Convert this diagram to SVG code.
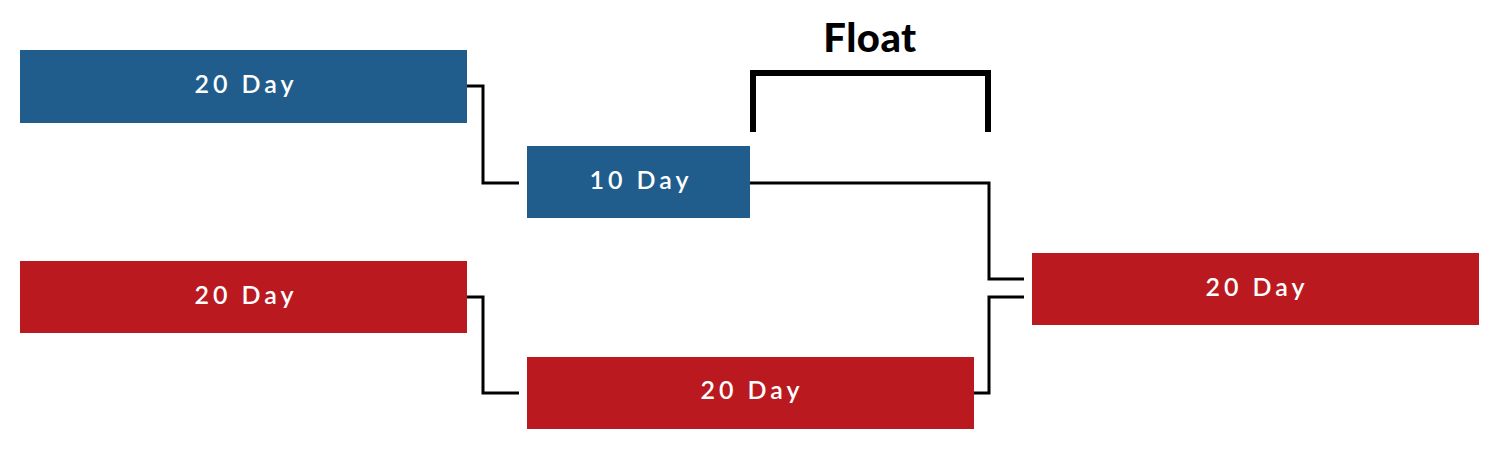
<svg xmlns="http://www.w3.org/2000/svg" width="1500" height="458" viewBox="0 0 1500 458">
<style>
.blue{fill:#205D8C}
.red{fill:#BA1920}
.lbl{font-family:Lato,"Noto Sans",sans-serif;font-size:25px;font-weight:600;fill:#fff;letter-spacing:4px;text-anchor:middle;dominant-baseline:central}
.conn{fill:none;stroke:#000;stroke-width:3}
.br{fill:none;stroke:#000;stroke-width:6}
.title{font-family:Lato,"Noto Sans",sans-serif;font-size:40px;font-weight:900;fill:#000;text-anchor:middle;letter-spacing:0.5px}
</style>
<rect width="1500" height="458" fill="#fff"/>
<g id="connectors">
<polyline class="conn" points="467,86 483,86 483,183 519,183"/>
<polyline class="conn" points="750,183 989,183 989,279 1024,279"/>
<polyline class="conn" points="467,297 483,297 483,393 519,393"/>
<polyline class="conn" points="974,393 989,393 989,297 1024,297"/>
</g>
<g id="float">
<text class="title" x="870" y="52">Float</text>
<polyline class="br" points="753,132 753,73 988,73 988,132"/>
</g>
<g id="n1"><rect class="blue" x="20" y="50" width="447" height="73"/><text class="lbl" x="246" y="83">20 Day</text></g>
<g id="n2"><rect class="blue" x="527" y="146" width="223" height="72"/><text class="lbl" x="641" y="179">10 Day</text></g>
<g id="n3"><rect class="red" x="20" y="261" width="447" height="72"/><text class="lbl" x="246" y="294">20 Day</text></g>
<g id="n4"><rect class="red" x="527" y="357" width="447" height="72"/><text class="lbl" x="752" y="389">20 Day</text></g>
<g id="n5"><rect class="red" x="1032" y="253" width="447" height="72"/><text class="lbl" x="1257" y="286">20 Day</text></g>
</svg>
